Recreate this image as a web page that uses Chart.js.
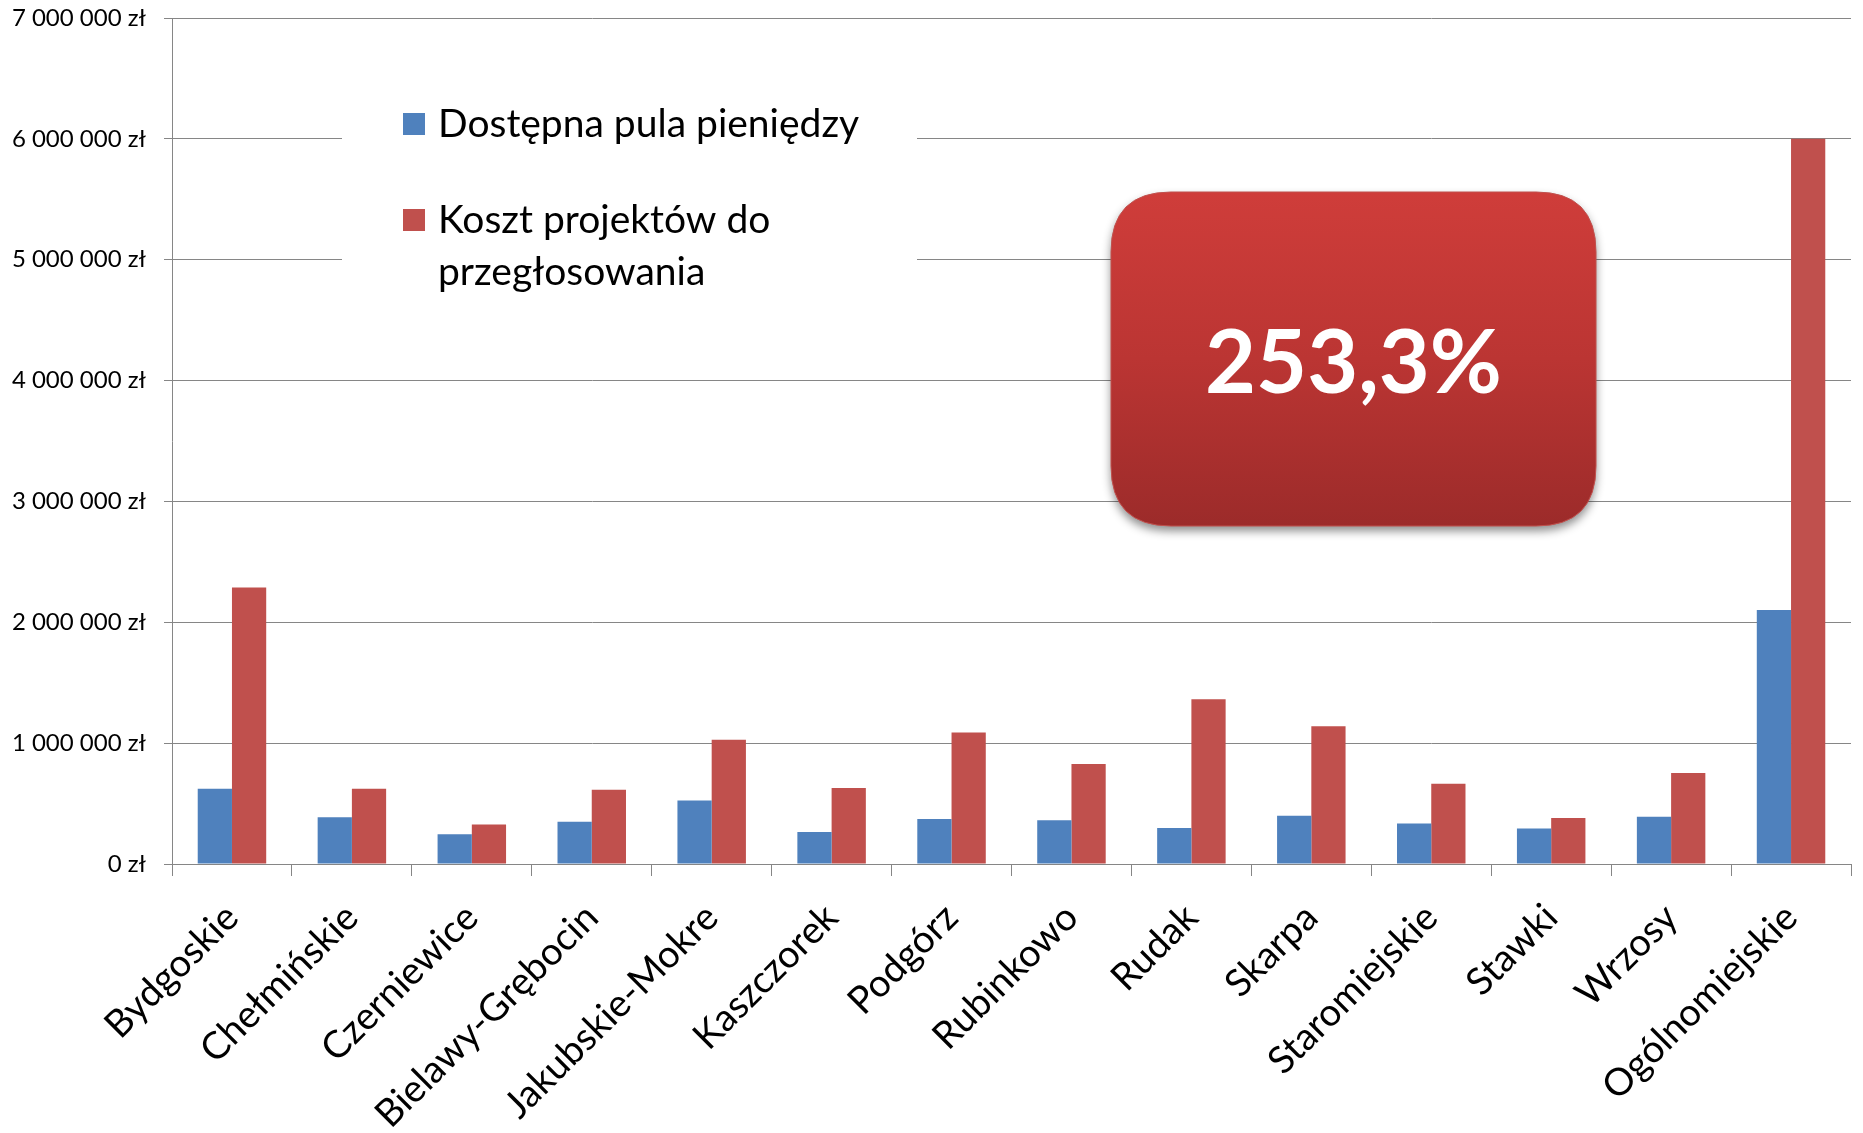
<!DOCTYPE html>
<html>
<head>
<meta charset="utf-8">
<script src="https://cdn.jsdelivr.net/npm/chart.js@4.4.1/dist/chart.umd.min.js"></script>
<style>
  html, body { margin: 0; padding: 0; background: #fff; }
</style>
</head>
<body>
<canvas id="chart" width="1863" height="1133"></canvas>
<script>
const categories = ["Bydgoskie", "Chełmińskie", "Czerniewice", "Bielawy-Grębocin", "Jakubskie-Mokre",
  "Kaszczorek", "Podgórz", "Rubinkowo", "Rudak", "Skarpa", "Staromiejskie", "Stawki", "Wrzosy", "Ogólnomiejskie"];
const pula = [623000, 386000, 247000, 349000, 526000, 265000, 372000, 363000, 298000, 400000, 335000, 293000, 390000, 2102000];
const koszt = [2288000, 623000, 326000, 614000, 1028000, 628000, 1088000, 828000, 1363000, 1140000, 665000, 381000, 753000, 6000000];
const seriesNames = ["Dostępna pula pieniędzy", "Koszt projektów do przegłosowania"];
const legendLines = [["Dostępna pula pieniędzy"], ["Koszt projektów do", "przegłosowania"]];
const badgeText = "253,3%";

const FONT = "Lato, 'Open Sans', sans-serif";
const gridColor = "#868686";

// thousands with spaces + zł
function zl(v) {
  return String(Math.round(v)).replace(/\B(?=(\d{3})+(?!\d))/g, " ") + " zł";
}

function roundRect(ctx, x, y, w, h, r) {
  ctx.beginPath();
  ctx.moveTo(x + r, y);
  ctx.lineTo(x + w - r, y);
  ctx.quadraticCurveTo(x + w, y, x + w, y + r);
  ctx.lineTo(x + w, y + h - r);
  ctx.quadraticCurveTo(x + w, y + h, x + w - r, y + h);
  ctx.lineTo(x + r, y + h);
  ctx.quadraticCurveTo(x, y + h, x, y + h - r);
  ctx.lineTo(x, y + r);
  ctx.quadraticCurveTo(x, y, x + r, y);
  ctx.closePath();
}

const overlay = {
  id: "overlay",
  afterDraw(chart) {
    const ctx = chart.ctx;
    ctx.save();

    // legend, white box over the grid
    ctx.fillStyle = "#fff";
    ctx.fillRect(342, 72, 575, 236);
    ctx.textBaseline = "middle";
    ctx.textAlign = "left";
    ctx.font = "39px " + FONT;
    const rows = [124, 220];
    chart.data.datasets.forEach((ds, i) => {
      ctx.fillStyle = ds.backgroundColor;
      ctx.fillRect(403, rows[i] - 11, 22, 22);
      ctx.fillStyle = "#000";
      legendLines[i].forEach((t, j) => ctx.fillText(t, 438, rows[i] + j * 52));
    });

    // red badge
    const bx = 1111, by = 192, bw = 485, bh = 334;
    ctx.save();
    ctx.shadowColor = "rgba(0,0,0,0.45)";
    ctx.shadowBlur = 10;
    ctx.shadowOffsetY = 5;
    const g = ctx.createLinearGradient(0, by, 0, by + bh);
    g.addColorStop(0, "#cf3d3a");
    g.addColorStop(0.5, "#bb3533");
    g.addColorStop(1, "#9c2b2a");
    ctx.fillStyle = g;
    roundRect(ctx, bx, by, bw, bh, 60);
    ctx.fill();
    ctx.restore();
    ctx.strokeStyle = "#c0504d";
    ctx.lineWidth = 1;
    roundRect(ctx, bx, by, bw, bh, 60);
    ctx.stroke();

    ctx.fillStyle = "#fff";
    ctx.textAlign = "center";
    ctx.font = "bold 88px " + FONT;
    ctx.fillText(badgeText, bx + bw / 2, by + bh / 2 + 6);
    ctx.restore();
  }
};

new Chart(document.getElementById("chart"), {
  type: "bar",
  data: {
    labels: categories,
    datasets: [
      { label: seriesNames[0], data: pula, backgroundColor: "#4f81bd",
        categoryPercentage: 0.571, barPercentage: 1 },
      { label: seriesNames[1], data: koszt, backgroundColor: "#c0504d",
        categoryPercentage: 0.571, barPercentage: 1 }
    ]
  },
  options: {
    responsive: false,
    animation: false,
    devicePixelRatio: 1,
    layout: { padding: { top: 18, right: 12, left: 0, bottom: 0 } },
    plugins: { legend: { display: false }, tooltip: { enabled: false } },
    scales: {
      x: {
        afterFit(s) { s.height = 269; },
        grid: { drawOnChartArea: false, color: gridColor, tickLength: 12, offset: true },
        border: { color: gridColor, width: 1 },
        ticks: {
          autoSkip: false, minRotation: 45, maxRotation: 45, padding: 19,
          color: "#000", font: { family: FONT, size: 38 }
        }
      },
      y: {
        min: 0, max: 7000000,
        afterFit(s) { s.width = 172; s.paddingTop = 14; s.paddingBottom = 14; },
        grid: { color: gridColor, tickLength: 8 },
        border: { color: gridColor, width: 1 },
        ticks: {
          stepSize: 1000000, padding: 18, color: "#000",
          font: { family: FONT, size: 24 },
          callback: (v) => zl(v)
        }
      }
    }
  },
  plugins: [overlay]
});
</script>
</body>
</html>
